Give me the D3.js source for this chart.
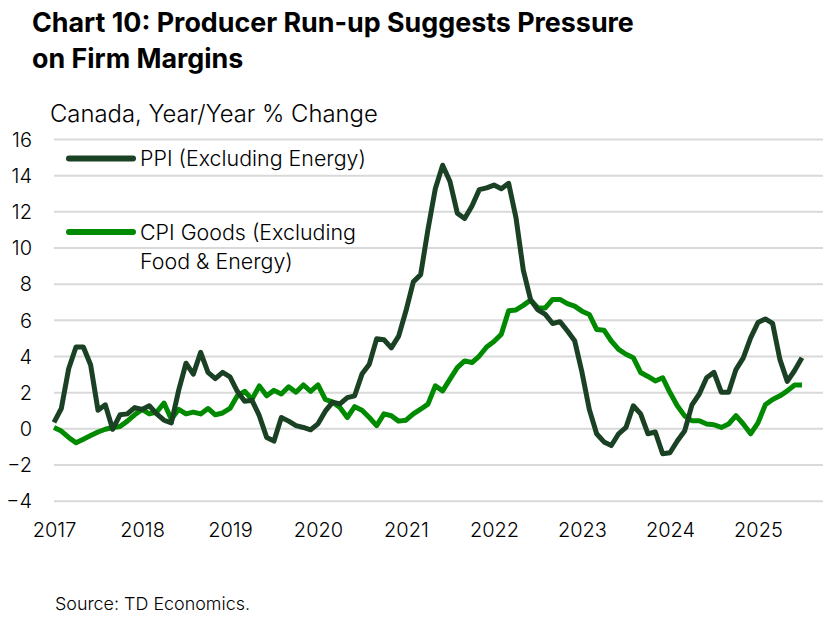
<!DOCTYPE html>
<html>
<head>
<meta charset="utf-8">
<script src="https://cdn.jsdelivr.net/npm/d3@7"></script>
<style>
  html, body { margin: 0; padding: 0; background: #fff; }
  svg { display: block; font-family: "Inter", "Lato", sans-serif; }
</style>
</head>
<body>
<svg id="chart" width="827" height="617"></svg>
<script>
// ---- data (monthly, Jan 2017 .. Jul 2025) ----
const startYear = 2017;
const yearLabels = ["2017","2018","2019","2020","2021","2022","2023","2024","2025"];
const yTicks = [-4,-2,0,2,4,6,8,10,12,14,16];
const seriesNames = ["PPI (Excluding Energy)", "CPI Goods (Excluding Food & Energy)"];

const ppi = [
  0.33, 1.1, 3.3, 4.5, 4.5, 3.5, 1.0, 1.3, -0.05, 0.75, 0.8, 1.15,
  1.05, 1.25, 0.8, 0.45, 0.3, 2.1, 3.6, 3.0, 4.2, 3.1, 2.75, 3.1,
  2.85, 2.05, 1.5, 1.55, 0.7, -0.5, -0.7, 0.6, 0.4, 0.15, 0.05, -0.08,
  0.25, 0.95, 1.45, 1.35, 1.7, 1.8, 3.0, 3.55, 4.95, 4.9, 4.45, 5.1,
  6.5, 8.1, 8.5, 11.0, 13.25, 14.55, 13.65, 11.9, 11.6, 12.3, 13.2, 13.3,
  13.45, 13.25, 13.55, 11.65, 8.75, 7.1, 6.55, 6.3, 5.8, 5.9, 5.4, 4.85,
  3.1, 1.05, -0.3, -0.75, -0.95, -0.3, 0.05, 1.25, 0.8, -0.3, -0.2, -1.4,
  -1.35, -0.7, -0.15, 1.3, 1.9, 2.8, 3.1, 2.0, 2.0, 3.25, 3.9, 5.0,
  5.85, 6.05, 5.8, 3.8, 2.6, 3.2, 3.9
];

const cpi = [
  0.05, -0.15, -0.5, -0.8, -0.6, -0.4, -0.2, -0.05, 0.05, 0.1, 0.4, 0.75,
  1.05, 0.8, 0.9, 1.4, 0.5, 1.05, 0.8, 0.9, 0.8, 1.1, 0.75, 0.85,
  1.1, 1.8, 2.05, 1.6, 2.35, 1.8, 2.1, 1.9, 2.3, 2.0, 2.4, 2.05,
  2.4, 1.6, 1.45, 1.15, 0.6, 1.2, 1.0, 0.6, 0.15, 0.8, 0.7, 0.4,
  0.45, 0.8, 1.06, 1.34, 2.35, 2.07, 2.72, 3.36, 3.73, 3.64, 4.0, 4.5,
  4.8, 5.2, 6.5, 6.55, 6.8, 7.1, 6.66, 6.66, 7.13, 7.13, 6.9, 6.76,
  6.48, 6.3, 5.47, 5.43, 4.83, 4.37, 4.1, 3.91, 3.09, 2.87, 2.62, 2.8,
  1.98, 1.25, 0.69, 0.42, 0.42, 0.24, 0.2, 0.05, 0.24, 0.7, 0.24, -0.3,
  0.3, 1.3, 1.6, 1.8, 2.07, 2.4, 2.4
];

const colors = { ppi: "#1b4125", cpi: "#008a00" };

// ---- layout ----
const svg = d3.select("#chart");
const plotLeft = 54, plotRight = 823;
const x = d3.scaleLinear().domain([0, 104.87]).range([plotLeft, plotRight]);
const y = d3.scaleLinear().domain([-4, 16]).range([500.7, 139]);
const bodyWeight = 300;

function fit(sel, target) {
  const node = sel.node();
  const fs = parseFloat(sel.attr("font-size"));
  const w = node.getComputedTextLength();
  if (w > 0) sel.attr("font-size", (fs * target / w).toFixed(2));
  return sel;
}

// title
const t1 = svg.append("text").attr("x", 32).attr("y", 32).attr("font-size", 22)
  .attr("font-weight", 700).attr("fill", "#000").text("Chart 10: Producer Run-up Suggests Pressure");
fit(t1, 602);
svg.append("text").attr("x", 32).attr("y", 68).attr("font-size", t1.attr("font-size"))
  .attr("font-weight", 700).attr("fill", "#000").text("on Firm Margins");

// subtitle
const st = svg.append("text").attr("x", 50).attr("y", 122).attr("font-size", 19)
  .attr("font-weight", bodyWeight).attr("fill", "#000").text("Canada, Year/Year % Change");
fit(st, 328);

// grid + y labels
const yAxis = d3.axisLeft(y).tickValues(yTicks).tickSize(-(plotRight - plotLeft)).tickPadding(22)
  .tickFormat(d3.format("d"));
const gy = svg.append("g").attr("transform", `translate(${plotLeft},0)`).call(yAxis);
gy.select(".domain").remove();
gy.selectAll(".tick line").attr("stroke", "#d9d9d9").attr("stroke-width", 2);
gy.selectAll(".tick text").attr("font-size", 20).attr("fill", "#000").attr("font-weight", bodyWeight)
  .attr("font-family", "Inter, Lato, sans-serif").attr("dy", "0.36em");

// x labels
const xAxis = d3.axisBottom(x).tickValues(yearLabels.map((_, i) => i * 12))
  .tickFormat((d, i) => yearLabels[i]).tickSize(0).tickPadding(0);
const gx = svg.append("g").attr("transform", `translate(0,523)`).call(xAxis);
gx.select(".domain").remove();
gx.selectAll(".tick text").attr("font-size", 20).attr("fill", "#000").attr("font-weight", bodyWeight)
  .attr("font-family", "Inter, Lato, sans-serif").attr("dy", "0.71em");

// lines
const line = d3.line().x((d, i) => x(i)).y(d => y(d));
svg.append("path").datum(cpi).attr("d", line).attr("fill", "none")
  .attr("stroke", colors.cpi).attr("stroke-width", 5).attr("stroke-linejoin", "round");
svg.append("path").datum(ppi).attr("d", line).attr("fill", "none")
  .attr("stroke", colors.ppi).attr("stroke-width", 5).attr("stroke-linejoin", "round");

// legend
const lg = svg.append("g");
lg.append("line").attr("x1", 69).attr("x2", 133).attr("y1", 158.5).attr("y2", 158.5)
  .attr("stroke", colors.ppi).attr("stroke-width", 6).attr("stroke-linecap", "round");
const l1 = lg.append("text").attr("x", 140).attr("y", 166).attr("font-size", 20).attr("fill", "#000")
  .attr("font-weight", bodyWeight).text(seriesNames[0]);
fit(l1, 226);
lg.append("line").attr("x1", 69).attr("x2", 133).attr("y1", 232).attr("y2", 232)
  .attr("stroke", colors.cpi).attr("stroke-width", 6).attr("stroke-linecap", "round");
lg.append("text").attr("x", 140).attr("y", 239.5).attr("font-size", l1.attr("font-size"))
  .attr("font-weight", bodyWeight).attr("fill", "#000").text("CPI Goods (Excluding");
lg.append("text").attr("x", 140).attr("y", 268.5).attr("font-size", l1.attr("font-size"))
  .attr("font-weight", bodyWeight).attr("fill", "#000").text("Food & Energy)");

// source
const src = svg.append("text").attr("x", 55).attr("y", 610).attr("font-size", 15)
  .attr("font-weight", bodyWeight).attr("fill", "#000").text("Source: TD Economics.");
fit(src, 195);
</script>
</body>
</html>
